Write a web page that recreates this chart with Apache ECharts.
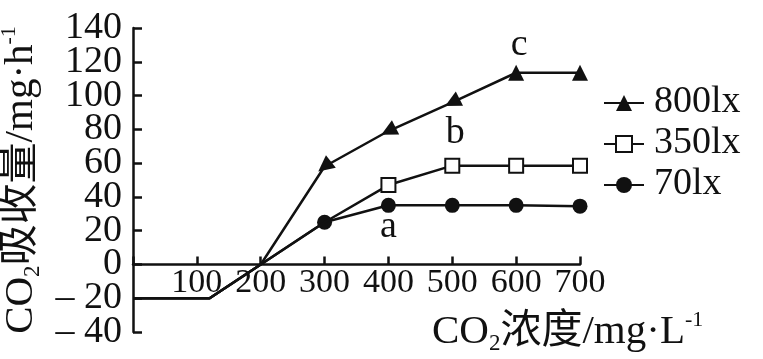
<!DOCTYPE html>
<html>
<head>
<meta charset="utf-8">
<script src="https://cdn.jsdelivr.net/npm/echarts@6/dist/echarts.min.js"></script>
<style>
  html, body { margin: 0; padding: 0; background: #fff; }
  #chart { width: 763px; height: 359px; }
</style>
</head>
<body>
<div id="chart"></div>
<script>
// CO2 concentration (mg·L^-1) at each vertex of the curves
const concentration = [0, 120, 200, 300, 400, 500, 600, 700];
// CO2 uptake (mg·h^-1) under three light intensities
const lx800 = [-20, -20, 0, 58, 79, 96, 113.5, 113.5];
const lx350 = [-20, -20, 0, 25, 47, 58.5, 58.5, 58.5];
const lx70  = [-20, -20, 0, 25, 35, 35, 35, 34.5];
const seriesNames = ['800lx', '350lx', '70lx'];
// letters marking particular points: [series index, point index, letter]
const pointMarks = [[2, 4, 'a'], [1, 5, 'b'], [0, 6, 'c']];
// the first measured concentration that carries a marker on each curve
const firstMarked = [3, 4, 3];
// triangles on the rising 800lx segment point back along the line
const arrowRotate = { 3: 128, 4: 117, 5: 117 };

const Y_MIN = -40, Y_MAX = 140, Y_STEP = 20;
const GRID = { left: 133, right: 183, top: 28, bottom: 27 };
const PLOT_H = 359 - GRID.top - GRID.bottom;
// the concentration axis is drawn along the zero uptake line
const xAxisLift = PLOT_H * (0 - Y_MIN) / (Y_MAX - Y_MIN);

const INK = '#111';
const SERIF = '"Liberation Serif", "Times New Roman", "Noto Sans CJK SC", serif';

const markStyle = {
  a: { offset: [0, 22] },
  b: { offset: [3, -33] },
  c: { offset: [3, -28] }
};

function buildData(values, seriesIdx) {
  return values.map((v, i) => {
    const item = { value: [concentration[i], v] };
    if (i < firstMarked[seriesIdx]) item.symbol = 'none';
    if (seriesIdx === 0 && arrowRotate[i] !== undefined) item.symbolRotate = arrowRotate[i];
    pointMarks.forEach(([s, p, letter]) => {
      if (s === seriesIdx && p === i) {
        item.label = {
          show: true,
          formatter: letter,
          position: 'inside',
          offset: markStyle[letter].offset,
          fontFamily: SERIF,
          fontSize: 38,
          color: INK
        };
      }
    });
    return item;
  });
}

const symbolDefs = [
  { symbol: 'triangle', symbolSize: 16, itemStyle: { color: INK } },
  { symbol: 'rect', symbolSize: 14, itemStyle: { color: '#fff', borderColor: INK, borderWidth: 2 } },
  { symbol: 'circle', symbolSize: 15, itemStyle: { color: INK } }
];

const allValues = [lx800, lx350, lx70];

const richName = {
  m: { fontFamily: SERIF, fontSize: 41, lineHeight: 46, color: INK },
  s: { fontFamily: SERIF, fontSize: 23, lineHeight: 12, verticalAlign: 'bottom', color: INK },
  p: { fontFamily: SERIF, fontSize: 22, lineHeight: 32, verticalAlign: 'top', color: INK }
};

const yTickLabel = v => (v < 0 ? '– ' + (-v) : String(v));
const yLabelStyle = {
  margin: 11,
  hideOverlap: false,
  fontFamily: SERIF,
  fontSize: 38,
  color: INK
};
const yTickStyle = { show: true, inside: true, length: 9, lineStyle: { color: INK, width: 2.5 } };

const chart = echarts.init(document.getElementById('chart'), null, { renderer: 'canvas' });

chart.setOption({
  animation: false,
  backgroundColor: '#fff',
  grid: Object.assign({ containLabel: false, outerBoundsMode: 'none' }, GRID),
  legend: {
    orient: 'vertical',
    left: 603,
    top: 83,
    padding: 0,
    itemGap: 3,
    itemWidth: 40,
    itemHeight: 20,
    data: seriesNames,
    formatter: name => '{t|' + name + '}{sp| }',
    textStyle: {
      color: INK,
      rich: {
        t: { fontFamily: SERIF, fontSize: 38, lineHeight: 22, verticalAlign: 'top', padding: [0, 0, 0, 5], color: INK },
        sp: { fontFamily: SERIF, fontSize: 10, lineHeight: 40, color: INK }
      }
    }
  },
  xAxis: {
    type: 'value',
    position: 'bottom',
    offset: -xAxisLift,
    min: 0,
    max: 700,
    interval: 100,
    name: '{m|CO}{s|2}{m|浓度/mg·L}{p|-1}',
    nameLocation: 'end',
    nameGap: -148,
    nameTextStyle: {
      align: 'left',
      verticalAlign: 'top',
      padding: [45, 0, 0, 0],
      rich: richName
    },
    axisLine: { show: true, onZero: false, lineStyle: { color: INK, width: 2.5 } },
    axisTick: { show: true, inside: true, length: 8, lineStyle: { color: INK, width: 2.5 } },
    axisLabel: {
      margin: 4,
      hideOverlap: false,
      showMinLabel: true,
      showMaxLabel: true,
      fontFamily: SERIF,
      fontSize: 34,
      lineHeight: 30,
      color: INK,
      formatter: v => (v === 0 ? '' : String(v))
    },
    splitLine: { show: false }
  },
  yAxis: [
    {
      // main uptake axis: inner tick labels
      type: 'value',
      position: 'left',
      min: Y_MIN,
      max: Y_MAX,
      interval: Y_STEP,
      name: '{m|CO}{s|2}{m|吸收量/mg·h}{p|-1}',
      nameLocation: 'middle',
      nameRotate: 90,
      nameGap: 71,
      nameTextStyle: { rich: richName },
      axisLine: { show: true, onZero: false, lineStyle: { color: INK, width: 2.5 } },
      axisTick: yTickStyle,
      axisLabel: Object.assign({ showMinLabel: false, showMaxLabel: false, formatter: yTickLabel }, yLabelStyle),
      splitLine: { show: false }
    },
    {
      // same scale, carrying the end labels (-40 and 140)
      type: 'value',
      position: 'left',
      offset: 0,
      min: Y_MIN,
      max: Y_MAX,
      interval: Y_STEP,
      axisLine: { show: false, onZero: false },
      axisTick: yTickStyle,
      axisLabel: Object.assign({
        showMinLabel: true,
        showMaxLabel: true,
        formatter: v => (v === Y_MIN || v === Y_MAX ? yTickLabel(v) : '')
      }, yLabelStyle),
      splitLine: { show: false }
    }
  ],
  series: seriesNames.map((name, idx) => ({
    name,
    type: 'line',
    yAxisIndex: 0,
    symbol: symbolDefs[idx].symbol,
    symbolSize: symbolDefs[idx].symbolSize,
    showAllSymbol: true,
    itemStyle: symbolDefs[idx].itemStyle,
    lineStyle: { color: INK, width: 2.5 },
    z: 3 - idx,
    data: buildData(allValues[idx], idx)
  }))
});
</script>
</body>
</html>
